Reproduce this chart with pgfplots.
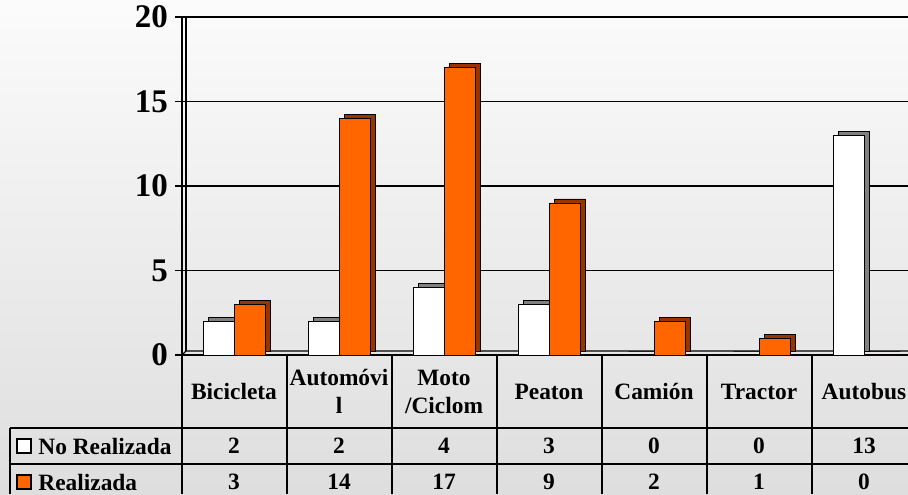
\documentclass[border=0pt]{standalone}
\usepackage{fontspec}
\setmainfont{Liberation Serif}
\usepackage{pgfplots}
\usepackage{pgfplotstable}
\pgfplotsset{compat=1.18}
\definecolor{orangebar}{HTML}{FF6600}
\definecolor{orangeside}{HTML}{993300}
\definecolor{bgtop}{HTML}{FBFBFB}
\definecolor{bgbot}{HTML}{DEDEDE}
\pgfplotstableread{
x no si
0 2 3
1 2 14
2 4 17
3 3 9
4 0 2
5 0 1
6 13 0
}\datatable
\begin{document}
\begin{tikzpicture}[x=0.5pt,y=0.5pt]
\useasboundingbox (0,0) rectangle (908,494);
\clip (0,0) rectangle (908,494);
\shade[top color=bgtop,bottom color=bgbot] (0,0) rectangle (908,494);
\draw[line width=0.6pt] (186,143) -- (186,477);
\draw[line width=0.6pt] (182,139) -- (186,143) -- (917,143);
\begin{axis}[at={(91pt,69.5pt)}, anchor=south west,
  width=367.5pt, height=169pt, scale only axis,
  xmin=-0.5, xmax=6.5, ymin=0, ymax=20,
  axis x line*=bottom, axis y line*=left,
  axis line style={black, line width=0.8pt},
  ytick={0,5,10,15,20}, xtick=\empty,
  ymajorgrids, grid style={black, line width=0.6pt},
  tick style={black, line width=0.6pt}, major tick length=3.5pt, tick align=outside,
  /pgf/number format/assume math mode=true,
  yticklabel style={font=\bfseries\fontsize{16.5}{18}\selectfont},
  clip=false]
\addplot[ybar, bar width=0.295, bar shift=-0.1476, fill=gray, draw=black, xshift=2.5pt, yshift=2pt] table[x=x,y=no]{\datatable};
\addplot[ybar, bar width=0.295, bar shift=0.1476, fill=orangeside, draw=black, xshift=2.5pt, yshift=2pt] table[x=x,y=si]{\datatable};
\addplot[ybar, bar width=0.295, bar shift=-0.1476, fill=white, draw=black] table[x=x,y=no]{\datatable};
\addplot[ybar, bar width=0.295, bar shift=0.1476, fill=orangebar, draw=black] table[x=x,y=si]{\datatable};
\end{axis}
% table grid
\begin{scope}[line width=0.8pt]
\draw (182,139) -- (182,0);
\foreach \k in {1,...,7} \draw (182+105*\k,139) -- (182+105*\k,0);
\draw (10,66) -- (917,66);
\draw (10,30) -- (917,30);
\draw (10,66) -- (10,0);
\end{scope}
% header
\tikzset{tt/.style={font=\bfseries\fontsize{11.7}{14}\selectfont, align=center, inner sep=0pt}}
\foreach \name [count=\i from 0] in {Bicicleta,{Automóvi\\l},{Moto\\/Ciclom},Peaton,Camión,Tractor,Autobus}
  \node[tt] at (234+105*\i,102.5) {\name};
% values
\foreach \k in {0,...,6}{
  \pgfplotstablegetelem{\k}{no}\of\datatable
  \node[tt] at (234+105*\k,48) {\pgfplotsretval};
  \pgfplotstablegetelem{\k}{si}\of\datatable
  \node[tt] at (234+105*\k,12) {\pgfplotsretval};
}
% legend cells
\draw[fill=white, line width=0.6pt] (17,41) rectangle (31,55);
\node[tt, anchor=west] at (38,48) {No Realizada};
\draw[fill=orangebar, line width=0.6pt] (17,5) rectangle (31,19);
\node[tt, anchor=west] at (38,12) {Realizada};
\end{tikzpicture}
\end{document}
